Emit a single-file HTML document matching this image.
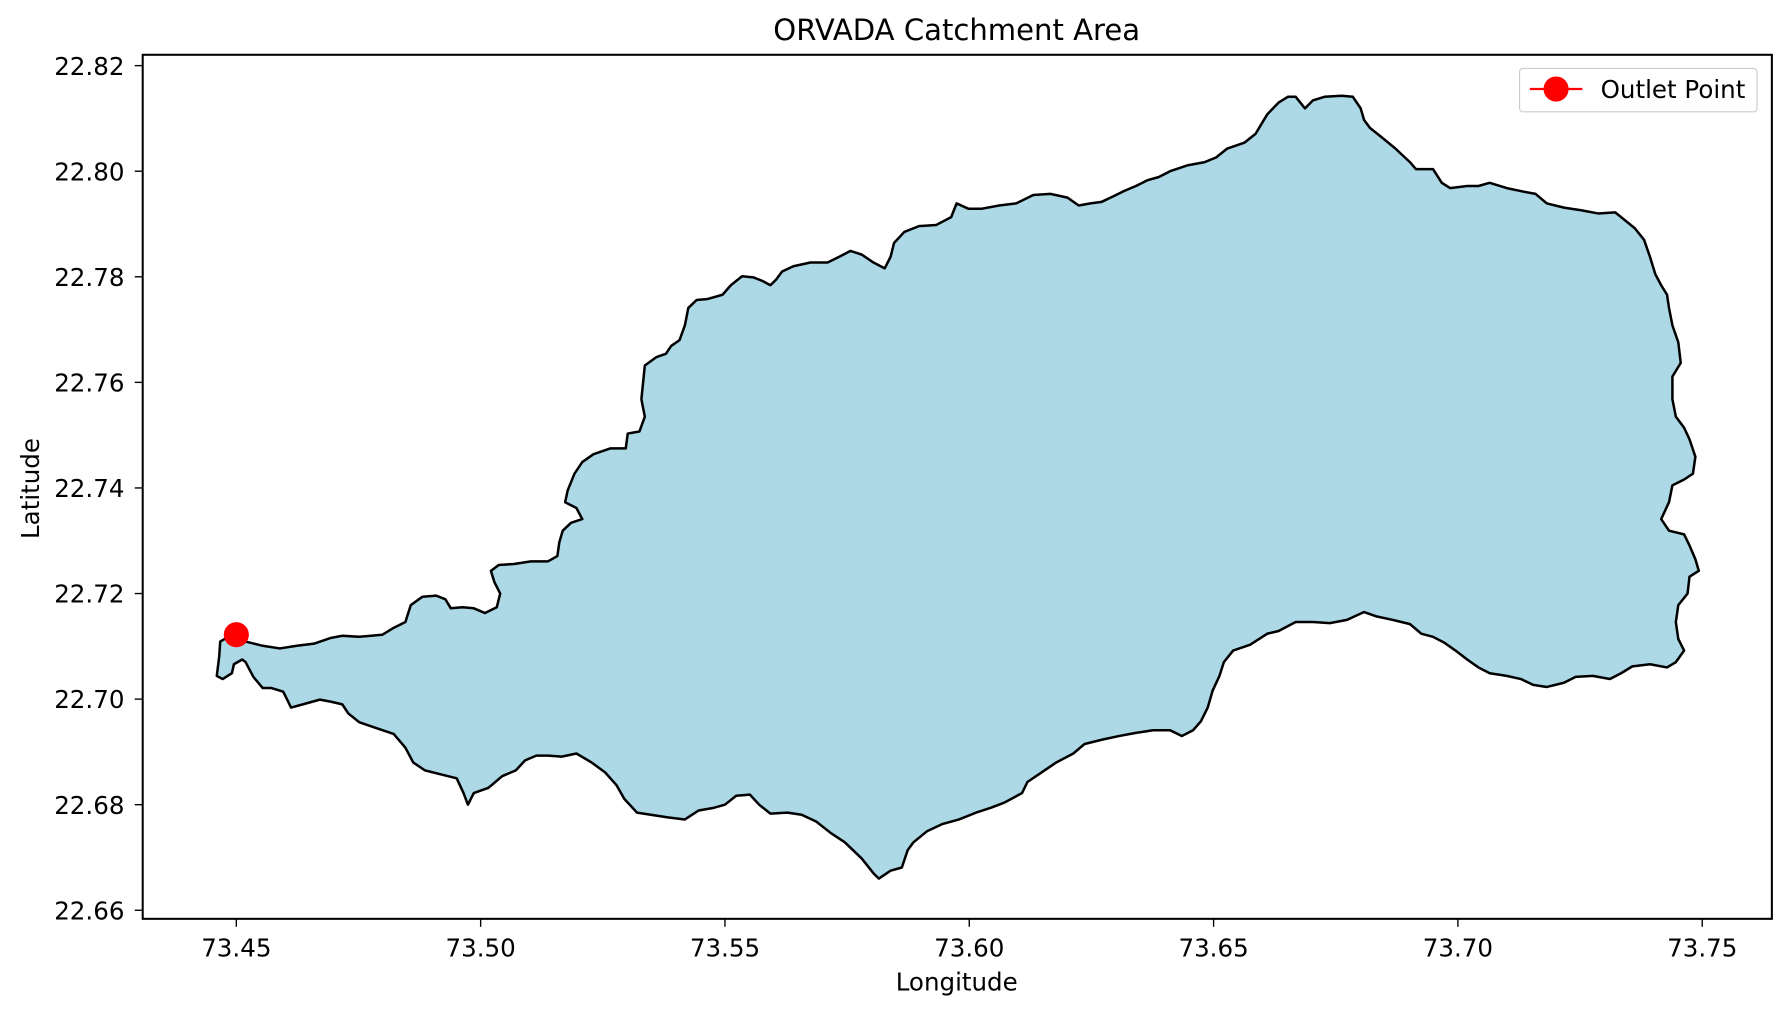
<!DOCTYPE html>
<html><head><meta charset="utf-8"><style>
html,body{margin:0;padding:0;background:#fff;}
svg{display:block;font-family:"DejaVu Sans","Liberation Sans",sans-serif;}
</style></head><body>
<svg id="chart" width="1781" height="1009" viewBox="0 0 1560 884" preserveAspectRatio="none" xmlns="http://www.w3.org/2000/svg">
<rect x="0" y="0" width="1560" height="884" fill="#fff"/>
<g id="plot"></g>
<rect x="125" y="48" width="1427" height="757" fill="none" stroke="#000" stroke-width="1.8"/>
<g id="ticks"></g>
<text x="838" y="35" font-size="25.5" text-anchor="middle" fill="#000">ORVADA Catchment Area</text>
<text x="838" y="868" font-size="21.5" text-anchor="middle" fill="#000">Longitude</text>
<text transform="translate(34,428) rotate(-90)" font-size="21.5" text-anchor="middle" fill="#000">Latitude</text>
<g>
<rect x="1331" y="60" width="208" height="38" rx="3" fill="#fff" fill-opacity="0.8" stroke="#ccc" stroke-width="1"/>
<line x1="1340" y1="78" x2="1386" y2="78" stroke="#ff0000" stroke-width="2"/>
<circle cx="1363" cy="78" r="11" fill="#ff0000"/>
<text x="1402" y="86" font-size="21.5" fill="#000">Outlet Point</text>
</g>
</svg>
<script>
const xTickValues = [73.45, 73.50, 73.55, 73.60, 73.65, 73.70, 73.75];
const xTickLabels = ["73.45", "73.50", "73.55", "73.60", "73.65", "73.70", "73.75"];
const yTickValues = [22.66, 22.68, 22.70, 22.72, 22.74, 22.76, 22.78, 22.80, 22.82];
const yTickLabels = ["22.66", "22.68", "22.70", "22.72", "22.74", "22.76", "22.78", "22.80", "22.82"];
const outletLon = [73.45];
const outletLat = [22.7122];
const boundaryLon = [73.4500,73.4519,73.4554,73.4589,73.4624,73.4659,73.4694,73.4717,73.4752,73.4776,73.4799,73.4822,73.4846,73.4857,73.4881,73.4909,73.4928,73.4939,73.4963,73.4986,73.5009,73.5033,73.5040,73.5028,73.5021,73.5037,73.5068,73.5103,73.5138,73.5157,73.5161,73.5168,73.5185,73.5208,73.5196,73.5173,73.5178,73.5192,73.5208,73.5231,73.5266,73.5297,73.5301,73.5325,73.5336,73.5329,73.5336,73.5360,73.5379,73.5390,73.5407,73.5418,73.5425,73.5442,73.5465,73.5495,73.5512,73.5535,73.5558,73.5577,73.5593,73.5605,73.5617,73.5640,73.5675,73.5710,73.5734,73.5757,73.5780,73.5804,73.5827,73.5839,73.5846,73.5867,73.5897,73.5932,73.5963,73.5974,73.5998,73.6026,73.6061,73.6096,73.6131,73.6166,73.6201,73.6224,73.6248,73.6271,73.6294,73.6318,73.6341,73.6365,73.6388,73.6411,73.6446,73.6481,73.6505,73.6528,73.6563,73.6586,73.6610,73.6633,73.6652,73.6668,73.6687,73.6703,73.6727,73.6762,73.6785,73.6801,73.6808,73.6820,73.6843,73.6872,73.6902,73.6914,73.6949,73.6967,73.6984,73.7019,73.7042,73.7065,73.7100,73.7136,73.7159,73.7182,73.7217,73.7252,73.7287,73.7322,73.7334,73.7362,73.7381,73.7393,73.7404,73.7416,73.7428,73.7432,73.7439,73.7451,73.7456,73.7439,73.7439,73.7446,73.7463,73.7474,73.7486,73.7481,73.7463,73.7439,73.7432,73.7416,73.7432,73.7463,73.7474,73.7486,73.7493,73.7474,73.7470,73.7451,73.7446,73.7451,73.7463,73.7446,73.7428,73.7393,73.7357,73.7334,73.7311,73.7276,73.7241,73.7217,73.7182,73.7154,73.7129,73.7100,73.7065,73.7042,73.7019,73.6995,73.6972,73.6949,73.6925,73.6902,73.6867,73.6832,73.6808,73.6773,73.6738,73.6703,73.6668,73.6633,73.6610,73.6575,73.6540,73.6521,73.6512,73.6498,73.6488,73.6474,73.6458,73.6435,73.6411,73.6376,73.6341,73.6306,73.6271,73.6236,73.6213,73.6178,73.6143,73.6119,73.6108,73.6072,73.6044,73.6014,73.5979,73.5944,73.5914,73.5886,73.5874,73.5862,73.5839,73.5815,73.5804,73.5780,73.5745,73.5717,73.5687,73.5657,73.5628,73.5593,73.5570,73.5551,73.5523,73.5500,73.5477,73.5446,73.5418,73.5383,73.5348,73.5320,73.5294,73.5278,73.5255,73.5227,73.5196,73.5166,73.5138,73.5114,73.5091,73.5072,73.5044,73.5016,73.4986,73.4974,73.4965,73.4951,73.4916,73.4886,73.4862,73.4846,73.4822,73.4787,73.4752,73.4729,73.4717,73.4694,73.4671,73.4636,73.4612,73.4596,73.4572,73.4554,73.4535,73.4519,73.4512,73.4495,73.4491,73.4472,73.4460,73.4465,73.4467,73.4484];
const boundaryLat = [22.7122,22.7109,22.7101,22.7096,22.7101,22.7105,22.7116,22.7120,22.7118,22.7120,22.7122,22.7135,22.7146,22.7178,22.7194,22.7196,22.7189,22.7172,22.7174,22.7172,22.7163,22.7174,22.7200,22.7222,22.7243,22.7254,22.7256,22.7261,22.7261,22.7271,22.7297,22.7319,22.7334,22.7341,22.7362,22.7373,22.7395,22.7427,22.7449,22.7464,22.7475,22.7475,22.7503,22.7507,22.7535,22.7568,22.7632,22.7648,22.7654,22.7669,22.7680,22.7708,22.7741,22.7756,22.7758,22.7766,22.7784,22.7801,22.7799,22.7792,22.7784,22.7795,22.7810,22.7820,22.7827,22.7827,22.7838,22.7849,22.7842,22.7827,22.7816,22.7838,22.7864,22.7885,22.7896,22.7898,22.7913,22.7939,22.7929,22.7929,22.7935,22.7939,22.7955,22.7957,22.7950,22.7935,22.7939,22.7942,22.7952,22.7963,22.7972,22.7983,22.7989,22.8000,22.8011,22.8017,22.8026,22.8043,22.8054,22.8071,22.8108,22.8130,22.8141,22.8141,22.8119,22.8134,22.8141,22.8143,22.8141,22.8119,22.8097,22.8082,22.8065,22.8043,22.8017,22.8004,22.8004,22.7978,22.7968,22.7972,22.7972,22.7978,22.7968,22.7961,22.7957,22.7939,22.7931,22.7926,22.7920,22.7922,22.7913,22.7892,22.7870,22.7838,22.7805,22.7784,22.7766,22.7741,22.7708,22.7676,22.7637,22.7611,22.7568,22.7535,22.7514,22.7492,22.7459,22.7427,22.7416,22.7405,22.7373,22.7341,22.7319,22.7312,22.7291,22.7265,22.7243,22.7232,22.7200,22.7178,22.7146,22.7114,22.7092,22.7070,22.7060,22.7066,22.7062,22.7049,22.7038,22.7044,22.7042,22.7031,22.7023,22.7027,22.7038,22.7044,22.7049,22.7060,22.7075,22.7092,22.7107,22.7118,22.7124,22.7142,22.7150,22.7157,22.7165,22.7150,22.7144,22.7146,22.7146,22.7129,22.7124,22.7103,22.7092,22.7070,22.7044,22.7016,22.6984,22.6958,22.6941,22.6930,22.6941,22.6941,22.6936,22.6930,22.6923,22.6915,22.6897,22.6880,22.6858,22.6843,22.6822,22.6804,22.6794,22.6785,22.6772,22.6763,22.6750,22.6729,22.6714,22.6681,22.6675,22.6660,22.6670,22.6698,22.6729,22.6746,22.6768,22.6781,22.6785,22.6783,22.6800,22.6819,22.6817,22.6800,22.6794,22.6789,22.6772,22.6776,22.6781,22.6785,22.6811,22.6837,22.6861,22.6880,22.6897,22.6891,22.6893,22.6893,22.6884,22.6865,22.6854,22.6832,22.6822,22.6800,22.6822,22.6850,22.6858,22.6865,22.6880,22.6908,22.6934,22.6945,22.6956,22.6973,22.6990,22.6995,22.6999,22.6990,22.6984,22.7014,22.7021,22.7021,22.7042,22.7070,22.7075,22.7066,22.7049,22.7038,22.7044,22.7081,22.7109,22.7118];

const NS = "http://www.w3.org/2000/svg";
const X0 = 207, XPX = 4280, Y0 = 520, YPX = 4625;
function xScale(lon){ return X0 + (lon - 73.45) * XPX; }
function yScale(lat){ return Y0 - (lat - 22.72) * YPX; }

const plot = document.getElementById('plot');
let d = '';
for (let i = 0; i < boundaryLon.length; i++) {
  d += (i ? 'L' : 'M') + xScale(boundaryLon[i]).toFixed(2) + ',' + yScale(boundaryLat[i]).toFixed(2);
}
d += 'Z';
const poly = document.createElementNS(NS, 'path');
poly.setAttribute('d', d);
poly.setAttribute('fill', '#add8e6');
poly.setAttribute('stroke', '#000');
poly.setAttribute('stroke-width', '2.2');
poly.setAttribute('stroke-linejoin', 'round');


plot.appendChild(poly);

for (let i = 0; i < outletLon.length; i++) {
  const c = document.createElementNS(NS, 'circle');
  c.setAttribute('cx', xScale(outletLon[i]));
  c.setAttribute('cy', yScale(outletLat[i]));
  c.setAttribute('r', '11');
  c.setAttribute('fill', '#ff0000');
  
  
  plot.appendChild(c);
}

const ticks = document.getElementById('ticks');
for (let i = 0; i < xTickValues.length; i++) {
  const x = xScale(xTickValues[i]);
  const l = document.createElementNS(NS, 'line');
  l.setAttribute('x1', x); l.setAttribute('x2', x);
  l.setAttribute('y1', 805); l.setAttribute('y2', 812);
  l.setAttribute('stroke', '#000'); l.setAttribute('stroke-width', '1.2');
  
  
  ticks.appendChild(l);
  const t = document.createElementNS(NS, 'text');
  t.setAttribute('x', x); t.setAttribute('y', 838);
  t.setAttribute('font-size', '21.5'); t.setAttribute('text-anchor', 'middle');
  t.textContent = xTickLabels[i];
  
  
  ticks.appendChild(t);
}
for (let i = 0; i < yTickValues.length; i++) {
  const y = yScale(yTickValues[i]);
  const l = document.createElementNS(NS, 'line');
  l.setAttribute('x1', 118); l.setAttribute('x2', 125);
  l.setAttribute('y1', y); l.setAttribute('y2', y);
  l.setAttribute('stroke', '#000'); l.setAttribute('stroke-width', '1.2');
  
  
  ticks.appendChild(l);
  const t = document.createElementNS(NS, 'text');
  t.setAttribute('x', 109); t.setAttribute('y', y + 8);
  t.setAttribute('font-size', '21.5'); t.setAttribute('text-anchor', 'end');
  t.textContent = yTickLabels[i];
  
  
  ticks.appendChild(t);
}
</script>
</body></html>
